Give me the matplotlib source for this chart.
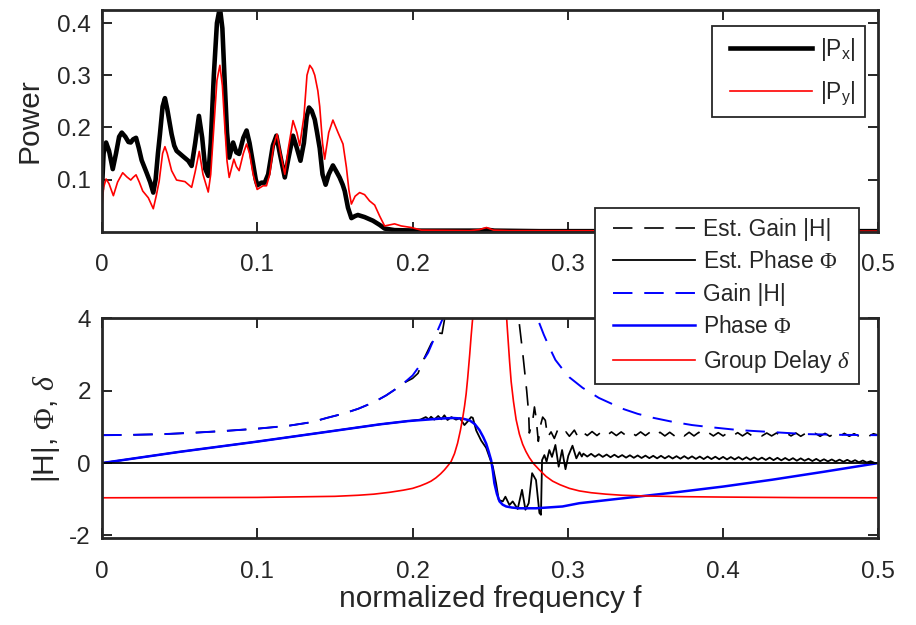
import numpy as np
import matplotlib
matplotlib.use("Agg")
import matplotlib.pyplot as plt
from matplotlib.lines import Line2D
from matplotlib.legend_handler import HandlerLine2D

# ---------------- power spectra (upper panel) ----------------
f_px = [0.0000, 0.0010, 0.0026, 0.0045, 0.0069, 0.0090, 0.0110, 0.0127, 0.0150, 0.0170,
        0.0185, 0.0200, 0.0219, 0.0237, 0.0255, 0.0287, 0.0310, 0.0330, 0.0345, 0.0360,
        0.0373, 0.0390, 0.0405, 0.0420, 0.0448, 0.0465, 0.0480, 0.0523, 0.0555, 0.0577,
        0.0600, 0.0624, 0.0645, 0.0665, 0.0684, 0.0700, 0.0720, 0.0740, 0.0759, 0.0775,
        0.0791, 0.0805, 0.0819, 0.0844, 0.0865, 0.0883, 0.0910, 0.0931, 0.0950, 0.0973,
        0.0990, 0.1001, 0.1027, 0.1048, 0.1070, 0.1100, 0.1123, 0.1145, 0.1177, 0.1200,
        0.1230, 0.1255, 0.1278, 0.1300, 0.1318, 0.1333, 0.1350, 0.1370, 0.1385, 0.1402,
        0.1420, 0.1440, 0.1460, 0.1487, 0.1510, 0.1530, 0.1550, 0.1563, 0.1584, 0.1606,
        0.1630, 0.1648, 0.1691, 0.1745, 0.1788, 0.1820, 0.1884, 0.2045, 0.2431, 0.2476,
        0.2527, 0.2817, 0.5000]
p_x = [0.085, 0.150, 0.171, 0.155, 0.120, 0.150, 0.182, 0.190, 0.182, 0.172,
       0.171, 0.177, 0.180, 0.160, 0.137, 0.113, 0.095, 0.075, 0.100, 0.150,
       0.187, 0.240, 0.256, 0.235, 0.187, 0.165, 0.155, 0.144, 0.136, 0.126,
       0.170, 0.222, 0.180, 0.120, 0.107, 0.170, 0.300, 0.400, 0.430, 0.390,
       0.280, 0.190, 0.142, 0.171, 0.152, 0.149, 0.180, 0.194, 0.170, 0.130,
       0.100, 0.089, 0.094, 0.094, 0.110, 0.165, 0.184, 0.150, 0.104, 0.140,
       0.184, 0.160, 0.136, 0.170, 0.220, 0.238, 0.232, 0.215, 0.190, 0.160,
       0.110, 0.090, 0.110, 0.127, 0.115, 0.104, 0.090, 0.078, 0.046, 0.026,
       0.030, 0.032, 0.028, 0.021, 0.013, 0.006, 0.003, 0.002, 0.002, 0.004,
       0.002, 0.001, 0.001]

f_py = [0.0000, 0.0010, 0.0026, 0.0045, 0.0073, 0.0100, 0.0133, 0.0160, 0.0185, 0.0200,
        0.0219, 0.0240, 0.0262, 0.0298, 0.0330, 0.0350, 0.0368, 0.0390, 0.0405, 0.0420,
        0.0448, 0.0480, 0.0534, 0.0577, 0.0600, 0.0626, 0.0650, 0.0684, 0.0700, 0.0720,
        0.0740, 0.0759, 0.0775, 0.0791, 0.0805, 0.0819, 0.0849, 0.0865, 0.0883, 0.0910,
        0.0931, 0.0950, 0.0973, 0.0999, 0.1037, 0.1059, 0.1080, 0.1105, 0.1127, 0.1150,
        0.1177, 0.1200, 0.1230, 0.1255, 0.1273, 0.1300, 0.1320, 0.1338, 0.1355, 0.1370,
        0.1390, 0.1402, 0.1420, 0.1434, 0.1460, 0.1487, 0.1520, 0.1552, 0.1574, 0.1590,
        0.1606, 0.1630, 0.1659, 0.1691, 0.1723, 0.1756, 0.1788, 0.1820, 0.1884, 0.1927,
        0.1992, 0.2056, 0.2367, 0.2431, 0.2476, 0.2521, 0.2624, 0.5000]
p_y = [0.049, 0.085, 0.101, 0.092, 0.069, 0.095, 0.113, 0.105, 0.099, 0.104,
       0.109, 0.095, 0.078, 0.065, 0.044, 0.070, 0.097, 0.150, 0.163, 0.150,
       0.117, 0.099, 0.096, 0.085, 0.115, 0.154, 0.110, 0.076, 0.110, 0.200,
       0.290, 0.319, 0.280, 0.200, 0.135, 0.104, 0.139, 0.125, 0.117, 0.150,
       0.168, 0.150, 0.110, 0.081, 0.088, 0.088, 0.110, 0.165, 0.187, 0.150,
       0.110, 0.160, 0.213, 0.190, 0.165, 0.220, 0.300, 0.319, 0.312, 0.300,
       0.270, 0.240, 0.170, 0.139, 0.190, 0.214, 0.190, 0.168, 0.123, 0.080,
       0.053, 0.068, 0.075, 0.071, 0.059, 0.051, 0.030, 0.011, 0.015, 0.011,
       0.008, 0.003, 0.002, 0.004, 0.008, 0.003, 0.002, 0.001]

# ---------------- transfer function (lower panel) ----------------
# theoretical gain, two branches either side of the resonance
f_gain_lo = [0.0, 0.02, 0.04, 0.06, 0.08, 0.10, 0.12, 0.135, 0.145, 0.155, 0.165,
             0.175, 0.183, 0.19, 0.196, 0.2, 0.2056, 0.21, 0.214, 0.217, 0.2195, 0.224]
gain_lo = [0.77, 0.78, 0.80, 0.84, 0.89, 0.95, 1.03, 1.13, 1.25, 1.36, 1.5,
           1.68, 1.87, 2.07, 2.27, 2.42, 2.75, 3.05, 3.45, 3.75, 4.0, 4.7]
f_gain_hi = [0.276, 0.2781, 0.2806, 0.2845, 0.2881, 0.292, 0.2965, 0.301, 0.3095,
             0.32, 0.3353, 0.345, 0.355, 0.3674, 0.38, 0.39, 0.4103, 0.43, 0.4532,
             0.475, 0.5]
gain_hi = [4.7, 4.3, 3.98, 3.55, 3.2, 2.85, 2.6, 2.37, 2.08,
           1.8, 1.5, 1.36, 1.25, 1.14, 1.05, 1.0, 0.91, 0.86, 0.8,
           0.78, 0.77]

# theoretical phase
f_phase = [0.0, 0.05, 0.0995, 0.1445, 0.179, 0.197, 0.2185, 0.226, 0.232, 0.2367,
           0.24, 0.2431, 0.2455, 0.2474, 0.249, 0.2506, 0.2517, 0.2527, 0.2543, 0.256,
           0.258, 0.2603, 0.264, 0.2688, 0.2795, 0.2966, 0.3074, 0.33, 0.3674, 0.4,
           0.4317, 0.465, 0.5]
phase = [0.0, 0.31, 0.59, 0.86, 1.07, 1.16, 1.23, 1.245, 1.23, 1.18,
         1.08, 0.91, 0.72, 0.54, 0.32, 0.08, -0.22, -0.56, -0.85, -1.06,
         -1.15, -1.2, -1.23, -1.25, -1.25, -1.2, -1.11, -1.0, -0.82, -0.65,
         -0.46, -0.24, 0.0]

# group delay, two branches either side of the resonance
f_delay_lo = [0.0, 0.1, 0.15, 0.165, 0.175, 0.185, 0.194, 0.2, 0.205, 0.209, 0.2119,
              0.215, 0.218, 0.2205, 0.2228, 0.2248, 0.227, 0.229, 0.2308, 0.2323,
              0.2335, 0.2345, 0.2355, 0.2368, 0.2377, 0.2385, 0.2392, 0.2405]
delay_lo = [-0.96, -0.95, -0.92, -0.89, -0.86, -0.81, -0.75, -0.70, -0.63, -0.56, -0.5,
            -0.41, -0.3, -0.19, -0.07, 0.04, 0.26, 0.55, 0.9, 1.25,
            1.58, 1.91, 2.35, 3.0, 3.5, 3.9, 4.2, 4.7]
f_delay_hi = [0.2595, 0.2603, 0.2609, 0.2617, 0.2625, 0.2635, 0.265, 0.2667, 0.2688,
              0.2709, 0.273, 0.2752, 0.278, 0.2817, 0.286, 0.2902, 0.295, 0.301, 0.3074,
              0.315, 0.3246, 0.335, 0.35, 0.375, 0.4, 0.45, 0.5]
delay_hi = [4.7, 4.2, 3.8, 3.3, 2.8, 2.25, 1.7, 1.2, 0.8,
            0.52, 0.32, 0.15, -0.02, -0.19, -0.37, -0.5, -0.6, -0.7, -0.77,
            -0.82, -0.86, -0.89, -0.91, -0.93, -0.94, -0.955, -0.96]

# estimated gain
f_est_gain_lo = [0.0, 0.02, 0.04, 0.06, 0.08, 0.1, 0.12, 0.135, 0.145, 0.155, 0.165,
                 0.175, 0.183, 0.19, 0.196, 0.2, 0.2035, 0.207, 0.212, 0.2165, 0.219,
                 0.2205, 0.2215]
est_gain_lo = [0.77, 0.78, 0.80, 0.84, 0.89, 0.95, 1.03, 1.13, 1.25, 1.36, 1.5,
               1.68, 1.87, 2.07, 2.25, 2.34, 2.48, 2.85, 3.3, 3.6, 3.58,
               3.95, 4.7]
f_est_gain_mid = [0.2672, 0.2684, 0.271, 0.2735, 0.2748, 0.2752, 0.2774, 0.2785, 0.2795,
                  0.281, 0.2827, 0.2838, 0.2855, 0.287, 0.2892, 0.2913, 0.2934, 0.2966,
                  0.2988, 0.301, 0.3042, 0.3063, 0.3088]
est_gain_mid = [4.7, 3.98, 3.02, 2.0, 1.37, 0.83, 1.18, 1.55, 1.27,
                0.6, 1.09, 1.27, 1.18, 0.72, 0.86, 0.68, 0.91, 0.77,
                0.86, 0.74, 0.91, 0.74, 0.88]
f_est_gain_tail = np.linspace(0.3125, 0.5, 61)
est_gain_tail = [0.76, 0.87, 0.76, 0.87, 0.76, 0.86, 0.76, 0.86, 0.76, 0.86,
                 0.76, 0.86, 0.76, 0.86, 0.75, 0.85, 0.75, 0.85, 0.75, 0.85,
                 0.75, 0.85, 0.75, 0.85, 0.75, 0.84, 0.75, 0.84, 0.75, 0.84,
                 0.75, 0.84, 0.75, 0.84, 0.75, 0.83, 0.75, 0.83, 0.75, 0.83,
                 0.75, 0.83, 0.75, 0.83, 0.74, 0.82, 0.74, 0.82, 0.74, 0.82,
                 0.74, 0.82, 0.74, 0.82, 0.74, 0.81, 0.74, 0.81, 0.74, 0.81,
                 0.77]

# estimated phase
f_est_phase = [0.0, 0.05, 0.0995, 0.1445, 0.179, 0.197, 0.205, 0.2085, 0.2105, 0.2119,
               0.214, 0.2165, 0.2185, 0.2205, 0.2225, 0.225, 0.228, 0.2305, 0.2334,
               0.2355, 0.2377, 0.2388, 0.241, 0.2442, 0.2474, 0.2495, 0.2517, 0.2538,
               0.2555, 0.2581, 0.2598, 0.2624, 0.2645, 0.2677, 0.2705, 0.2727, 0.2748,
               0.277, 0.2795, 0.2817, 0.2827, 0.2834, 0.2849, 0.2863, 0.2881, 0.2898,
               0.292, 0.2941, 0.2963, 0.2985, 0.3003, 0.303, 0.3055, 0.3075, 0.309]
est_phase = [0.0, 0.31, 0.59, 0.86, 1.07, 1.16, 1.2, 1.27, 1.21, 1.28,
             1.2, 1.3, 1.21, 1.32, 1.19, 1.27, 1.2, 1.24, 1.05,
             1.15, 1.27, 1.25, 0.9, 0.62, 0.42, 0.17, -0.1, -0.56,
             -1.02, -1.06, -0.93, -1.16, -1.06, -1.27, -0.74, -1.29, -1.11,
             -0.28, -0.47, -1.38, -1.43, 0.08, 0.22, 0.04, 0.36, 0.17,
             0.5, -0.1, 0.36, -0.17, 0.2, 0.48, 0.13, 0.3, 0.18]
f_est_phase_tail = np.linspace(0.31, 0.5, 77)
est_phase_tail = [0.26, 0.18, 0.255, 0.175, 0.245, 0.17, 0.235, 0.16, 0.23,
                  0.16, 0.22, 0.15, 0.215, 0.145, 0.21, 0.14, 0.205, 0.135,
                  0.2, 0.13, 0.2, 0.13, 0.195, 0.125, 0.19, 0.12, 0.19,
                  0.12, 0.185, 0.115, 0.18, 0.11, 0.18, 0.11, 0.175, 0.105,
                  0.17, 0.10, 0.165, 0.10, 0.165, 0.095, 0.16, 0.09, 0.155,
                  0.09, 0.15, 0.085, 0.15, 0.08, 0.145, 0.075, 0.14, 0.075,
                  0.135, 0.065, 0.13, 0.065, 0.12, 0.055, 0.115, 0.05, 0.105,
                  0.045, 0.10, 0.04, 0.095, 0.035, 0.09, 0.03, 0.08, 0.02,
                  0.07, 0.015, 0.05, 0.005, 0.0]

zero_level = 0.0

xticks = [0, 0.1, 0.2, 0.3, 0.4, 0.5]
xticklabels = ["0", "0.1", "0.2", "0.3", "0.4", "0.5"]
# the upper panel's 0.4 label sits under the lower legend
xticklabels_top = ["0", "0.1", "0.2", "0.3", "", "0.5"]
power_ticks = [0.1, 0.2, 0.3, 0.4]
power_ticklabels = ["0.1", "0.2", "0.3", "0.4"]
h_ticks = [-2, 0, 2, 4]
h_ticklabels = ["-2", "0", "2", "4"]

# ---------------- styling ----------------
INK = "#262626"
plt.rcParams.update({
    "font.family": "Liberation Sans",
    "mathtext.fontset": "custom",
    "mathtext.rm": "Liberation Sans",
    "mathtext.it": "Liberation Serif:italic",
    "mathtext.sf": "Liberation Serif",
    "mathtext.bf": "Liberation Sans:bold",
    "lines.scale_dashes": False,
    "text.color": INK,
    "axes.edgecolor": INK,
    "axes.labelcolor": INK,
    "xtick.color": INK,
    "ytick.color": INK,
    "lines.solid_joinstyle": "round",
    "lines.dash_joinstyle": "round",
})

DASH = (14, 8.5)


def join(*parts):
    """Concatenate (f, v, gap_after) pieces; gap_after=True leaves a NaN break."""
    fs, vs = [], []
    for f, v, gap_after in parts:
        fs.append(np.asarray(f, float))
        vs.append(np.asarray(v, float))
        if gap_after:
            fs.append(np.array([np.nan]))
            vs.append(np.array([np.nan]))
    return np.concatenate(fs), np.concatenate(vs)


fig = plt.figure(figsize=(9.16, 6.25), dpi=100)
ax1 = fig.add_axes([0.1114, 0.6293, 0.8475, 0.3547])
ax2 = fig.add_axes([0.1114, 0.1387, 0.8475, 0.3520])

for ax in (ax1, ax2):
    ax.set_xlim(0, 0.5)
    ax.set_xticks(xticks)
    ax.tick_params(direction="in", top=True, right=True, length=7, width=1.4,
                   labelsize=17.5)
    ax.tick_params(axis="x", pad=16)
    ax.tick_params(axis="y", pad=8)
    for s in ax.spines.values():
        s.set_linewidth(2.0)
ax1.set_xticklabels(xticklabels_top)
ax2.set_xticklabels(xticklabels)

# upper panel
lx, = ax1.plot(f_px, p_x, color="k", lw=3.3, label="|P$_{\\mathrm{x}}$|")
ly, = ax1.plot(f_py, p_y, color="r", lw=1.2, label="|P$_{\\mathrm{y}}$|")
ax1.set_ylim(0, 0.425)
ax1.set_yticks(power_ticks)
ax1.set_yticklabels(power_ticklabels)
ax1.set_ylabel("Power", fontsize=21.5, labelpad=10)

leg_kw = dict(fontsize=16.4, frameon=True, fancybox=False, edgecolor=INK,
              facecolor="white", framealpha=1.0, handletextpad=0.35,
              borderpad=0.42, borderaxespad=0.0,
              bbox_transform=fig.transFigure,
              handler_map={Line2D: HandlerLine2D(xpad=0.35)})
leg1 = ax1.legend(handles=[lx, ly], loc="upper right",
                  bbox_to_anchor=(865 / 916, 1 - 26 / 625),
                  handlelength=3.95, labelspacing=0.75, **leg_kw)
leg1.get_frame().set_linewidth(1.3)

# lower panel
fg, vg = join((f_est_gain_lo, est_gain_lo, True),
              (f_est_gain_mid, est_gain_mid, False),
              (f_est_gain_tail, est_gain_tail, False))
h1, = ax2.plot(fg, vg, color="k", lw=1.2, dashes=DASH, label="Est. Gain |H|")
fp, vp = join((f_est_phase, est_phase, False),
              (f_est_phase_tail, est_phase_tail, False))
h2, = ax2.plot(fp, vp, color="k", lw=1.3, label="Est. Phase $\\mathsf{\\Phi}$")
fg, vg = join((f_gain_lo, gain_lo, True), (f_gain_hi, gain_hi, False))
h3, = ax2.plot(fg, vg, color="b", lw=1.4, dashes=DASH, label="Gain |H|")
h4, = ax2.plot(f_phase, phase, color="b", lw=1.8, label="Phase $\\mathsf{\\Phi}$")
fd, vd = join((f_delay_lo, delay_lo, True), (f_delay_hi, delay_hi, False))
h5, = ax2.plot(fd, vd, color="r", lw=1.2, label="Group Delay $\\delta$")
ax2.axhline(zero_level, color="k", lw=1.3)

ax2.set_ylim(-2.08, 4)
ax2.set_yticks(h_ticks)
ax2.set_yticklabels(h_ticklabels)
ax2.set_ylabel("|H|, $\\mathsf{\\Phi}$, $\\delta$", fontsize=21.5, labelpad=5)
ax2.set_xlabel("normalized frequency f", fontsize=21.5, labelpad=2)

leg2 = ax2.legend(handles=[h1, h2, h3, h4, h5], loc="upper right",
                  bbox_to_anchor=(859 / 916, 1 - 208 / 625),
                  handlelength=3.95, labelspacing=0.42, **leg_kw)
leg2.get_frame().set_linewidth(1.3)
leg2.set_zorder(10)

fig.savefig("out.png", dpi=100)
